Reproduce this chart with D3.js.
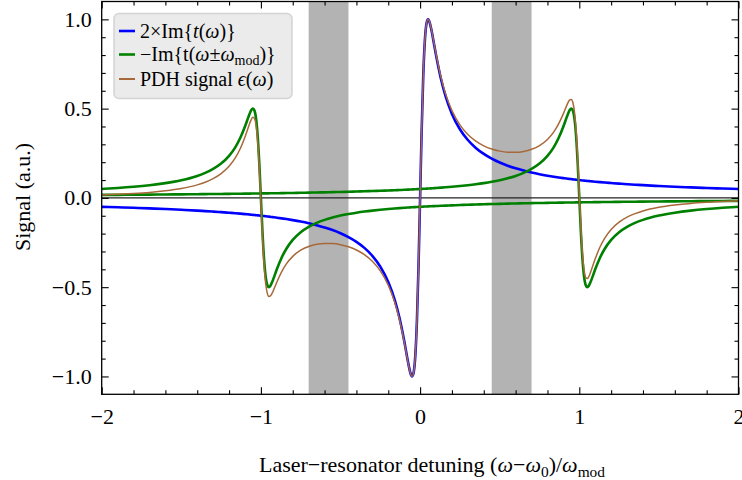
<!DOCTYPE html>
<html>
<head>
<meta charset="utf-8">
<script src="https://cdn.jsdelivr.net/npm/d3@7/dist/d3.min.js"></script>
<style>
  html, body { margin: 0; padding: 0; background: #ffffff; }
  svg { display: block; }
  text { font-family: "Liberation Serif", "DejaVu Serif", serif; fill: #000; }
</style>
</head>
<body>
<svg id="chart" width="742" height="480"></svg>
<script>
// ---------------- data ----------------
const detuning = [
  -2,-1.9,-1.8,-1.7,-1.6,-1.5,-1.4,-1.35,-1.3,-1.25,-1.2,-1.16,-1.13,-1.1,
  -1.08,-1.07,-1.06,-1.05,-1.04,-1.03,-1.02,-1.01,-1,-0.99,-0.98,-0.97,-0.96,-0.95,
  -0.94,-0.93,-0.92,-0.9,-0.87,-0.84,-0.8,-0.75,-0.7,-0.65,-0.6,-0.55,-0.5,-0.45,
  -0.4,-0.35,-0.3,-0.25,-0.2,-0.16,-0.13,-0.1,-0.08,-0.07,-0.06,-0.05,-0.04,-0.03,
  -0.02,-0.01,0,
  0.01,0.02,0.03,0.04,0.05,0.06,0.07,0.08,0.1,0.13,0.16,0.2,0.25,0.3,0.35,0.4,
  0.45,0.5,0.55,0.6,0.65,0.7,0.75,0.8,0.84,0.87,0.9,0.92,0.93,0.94,0.95,0.96,0.97,
  0.98,0.99,1,1.01,1.02,1.03,1.04,1.05,1.06,1.07,1.08,1.1,1.13,1.16,1.2,1.25,1.3,
  1.35,1.4,1.5,1.6,1.7,1.8,1.9,2
];

const carrierSignal = [  // 2 x Im{t(w)}
  -0.0500,-0.0526,-0.0555,-0.0588,-0.0624,-0.0666,-0.0713,-0.0740,-0.0768,-0.0799,-0.0832,
  -0.0860,-0.0883,-0.0907,-0.0924,-0.0933,-0.0941,-0.0950,-0.0959,-0.0969,-0.0978,-0.0988,
  -0.0998,-0.1008,-0.1018,-0.1028,-0.1039,-0.1050,-0.1061,-0.1072,-0.1084,-0.1108,-0.1146,
  -0.1186,-0.1245,-0.1327,-0.1421,-0.1529,-0.1655,-0.1803,-0.1980,-0.2195,-0.2462,-0.2800,
  -0.3243,-0.3846,-0.4706,-0.5694,-0.6701,-0.8000,-0.8989,-0.9459,-0.9836,-1.0000,-0.9756,
  -0.8824,-0.6897,-0.3846,0,
  0.3846,0.6897,0.8824,0.9756,1.0000,0.9836,0.9459,0.8989,0.8000,0.6701,0.5694,0.4706,
  0.3846,0.3243,0.2800,0.2462,0.2195,0.1980,0.1803,0.1655,0.1529,0.1421,0.1327,0.1245,
  0.1186,0.1146,0.1108,0.1084,0.1072,0.1061,0.1050,0.1039,0.1028,0.1018,0.1008,0.0998,
  0.0988,0.0978,0.0969,0.0959,0.0950,0.0941,0.0933,0.0924,0.0907,0.0883,0.0860,0.0832,
  0.0799,0.0768,0.0740,0.0713,0.0666,0.0624,0.0588,0.0555,0.0526,0.0500
];

const lowerSideband = [  // -Im{t(w + w_mod)}
  0.0499,0.0554,0.0623,0.0711,0.0828,0.0990,0.1231,0.1400,0.1622,0.1923,0.2353,0.2847,
  0.3351,0.4000,0.4494,0.4730,0.4918,0.5000,0.4878,0.4412,0.3448,0.1923,0,-0.1923,-0.3448,
  -0.4412,-0.4878,-0.5000,-0.4918,-0.4730,-0.4494,-0.4000,-0.3351,-0.2847,-0.2353,-0.1923,
  -0.1622,-0.1400,-0.1231,-0.1098,-0.0990,-0.0902,-0.0828,-0.0765,-0.0711,-0.0664,-0.0623,
  -0.0593,-0.0573,-0.0554,-0.0542,-0.0536,-0.0530,-0.0525,-0.0519,-0.0514,-0.0509,-0.0504,
  -0.0499,
  -0.0494,-0.0489,-0.0484,-0.0480,-0.0475,-0.0471,-0.0466,-0.0462,-0.0454,-0.0442,-0.0430,
  -0.0416,-0.0399,-0.0384,-0.0370,-0.0357,-0.0344,-0.0333,-0.0322,-0.0312,-0.0303,-0.0294,
  -0.0285,-0.0278,-0.0272,-0.0267,-0.0263,-0.0260,-0.0259,-0.0258,-0.0256,-0.0255,-0.0254,
  -0.0252,-0.0251,-0.0250,-0.0249,-0.0247,-0.0246,-0.0245,-0.0244,-0.0243,-0.0241,-0.0240,
  -0.0238,-0.0235,-0.0231,-0.0227,-0.0222,-0.0217,-0.0213,-0.0208,-0.0200,-0.0192,-0.0185,
  -0.0179,-0.0172,-0.0167
];

const upperSideband = [  // -Im{t(w - w_mod)}
  0.0167,0.0172,0.0179,0.0185,0.0192,0.0200,0.0208,0.0213,0.0217,0.0222,0.0227,0.0231,
  0.0235,0.0238,0.0240,0.0241,0.0243,0.0244,0.0245,0.0246,0.0247,0.0249,0.0250,0.0251,
  0.0252,0.0254,0.0255,0.0256,0.0258,0.0259,0.0260,0.0263,0.0267,0.0272,0.0278,0.0285,
  0.0294,0.0303,0.0312,0.0322,0.0333,0.0344,0.0357,0.0370,0.0384,0.0399,0.0416,0.0430,
  0.0442,0.0454,0.0462,0.0466,0.0471,0.0475,0.0480,0.0484,0.0489,0.0494,0.0499,
  0.0504,0.0509,0.0514,0.0519,0.0525,0.0530,0.0536,0.0542,0.0554,0.0573,0.0593,0.0623,
  0.0664,0.0711,0.0765,0.0828,0.0902,0.0990,0.1098,0.1231,0.1400,0.1622,0.1923,0.2353,
  0.2847,0.3351,0.4000,0.4494,0.4730,0.4918,0.5000,0.4878,0.4412,0.3448,0.1923,0,-0.1923,
  -0.3448,-0.4412,-0.4878,-0.5000,-0.4918,-0.4730,-0.4494,-0.4000,-0.3351,-0.2847,-0.2353,
  -0.1923,-0.1622,-0.1400,-0.1231,-0.0990,-0.0828,-0.0711,-0.0623,-0.0554,-0.0499
];

const pdhSignal = [  // PDH error signal
  0.0166,0.0201,0.0248,0.0309,0.0397,0.0526,0.0730,0.0879,0.1079,0.1358,0.1768,0.2251,
  0.2753,0.3414,0.3930,0.4185,0.4402,0.4520,0.4445,0.4035,0.3130,0.1654,-0.0249,-0.2190,
  -0.3766,-0.4796,-0.5332,-0.5518,-0.5490,-0.5348,-0.5153,-0.4722,-0.4145,-0.3698,-0.3274,
  -0.2931,-0.2722,-0.2602,-0.2553,-0.2560,-0.2620,-0.2736,-0.2916,-0.3177,-0.3550,-0.4089,
  -0.4888,-0.5827,-0.6797,-0.8060,-0.9024,-0.9482,-0.9846,-1.0000,-0.9745,-0.8809,-0.6881,
  -0.3836,0,
  0.3836,0.6881,0.8809,0.9745,1.0000,0.9846,0.9482,0.9024,0.8060,0.6797,0.5827,0.4888,
  0.4089,0.3550,0.3177,0.2916,0.2736,0.2620,0.2560,0.2553,0.2602,0.2722,0.2931,0.3274,
  0.3698,0.4145,0.4722,0.5153,0.5348,0.5490,0.5518,0.5332,0.4796,0.3766,0.2190,0.0249,
  -0.1654,-0.3130,-0.4035,-0.4445,-0.4520,-0.4402,-0.4185,-0.3930,-0.3414,-0.2753,-0.2251,
  -0.1768,-0.1358,-0.1079,-0.0879,-0.0730,-0.0526,-0.0397,-0.0309,-0.0248,-0.0201,-0.0166
];

const bandStart = [-0.7, 0.45];
const bandEnd   = [-0.45, 0.7];

const xMajorTicks = [-2, -1, 0, 1, 2];
const xMinorTicks = [-1.8,-1.6,-1.4,-1.2,-0.8,-0.6,-0.4,-0.2,0.2,0.4,0.6,0.8,1.2,1.4,1.6,1.8];
const yMajorTicks = [-1.0, -0.5, 0.0, 0.5, 1.0];
const yMinorTicks = [-0.9,-0.8,-0.7,-0.6,-0.4,-0.3,-0.2,-0.1,0.1,0.2,0.3,0.4,0.6,0.7,0.8,0.9];

// ---------------- layout ----------------
const svg = d3.select("#chart");
const L = 101.7, R = 738.5, T = 1.5, B = 394.3;
const x = d3.scaleLinear().domain([-2, 2]).range([L, R]);
const y = d3.scaleLinear().domain([-1.1, 1.1]).range([B, T]);

svg.append("defs").append("clipPath").attr("id", "clip")
  .append("rect").attr("x", L).attr("y", T).attr("width", R - L).attr("height", B - T);

const plot = svg.append("g").attr("clip-path", "url(#clip)");

// shaded bands
plot.selectAll("rect.band").data(bandStart).enter().append("rect")
  .attr("class", "band")
  .attr("x", (d) => x(d))
  .attr("width", (d, i) => x(bandEnd[i]) - x(d))
  .attr("y", T).attr("height", B - T)
  .attr("fill", "#b3b3b3");

// zero line
plot.append("line")
  .attr("x1", x(-2)).attr("x2", x(2))
  .attr("y1", y(0)).attr("y2", y(0))
  .attr("stroke", "#222").attr("stroke-width", 1.1);

const line = (vals) => d3.line()
  .x((d, i) => x(detuning[i]))
  .y((d) => y(d))
  .curve(d3.curveMonotoneX)(vals);

const series = [
  { vals: carrierSignal, color: "#0000ff", w: 2.6 },
  { vals: lowerSideband, color: "#008000", w: 2.6 },
  { vals: upperSideband, color: "#008000", w: 2.6 },
  { vals: pdhSignal,     color: "#a8693a", w: 1.5 }
];
series.forEach((s) => {
  plot.append("path").attr("d", line(s.vals))
    .attr("fill", "none").attr("stroke", s.color)
    .attr("stroke-width", s.w).attr("stroke-linejoin", "round");
});

// ---------------- axes ----------------
const fs = 22;
function styleAxis(g) {
  g.select(".domain").remove();
  g.selectAll(".tick line").attr("stroke", "#000").attr("stroke-width", 1.1);
  g.selectAll(".tick text").style("font-size", fs + "px")
    .style("font-family", "'Liberation Serif', serif");
}
const fmtY = d3.format(".1f");
const fmtX = d3.format("d");

svg.append("g").attr("transform", `translate(0,${B})`)
  .call(d3.axisBottom(x).tickValues(xMajorTicks).tickSize(-7).tickPadding(14).tickFormat(fmtX)).call(styleAxis);
svg.append("g").attr("transform", `translate(0,${B})`)
  .call(d3.axisBottom(x).tickValues(xMinorTicks).tickSize(-4).tickFormat("")).call(styleAxis);
svg.append("g").attr("transform", `translate(0,${T})`)
  .call(d3.axisTop(x).tickValues(xMajorTicks).tickSize(-7).tickFormat("")).call(styleAxis);
svg.append("g").attr("transform", `translate(0,${T})`)
  .call(d3.axisTop(x).tickValues(xMinorTicks).tickSize(-4).tickFormat("")).call(styleAxis);

svg.append("g").attr("transform", `translate(${L},0)`)
  .call(d3.axisLeft(y).tickValues(yMajorTicks).tickSize(-7).tickPadding(10).tickFormat(fmtY)).call(styleAxis);
svg.append("g").attr("transform", `translate(${L},0)`)
  .call(d3.axisLeft(y).tickValues(yMinorTicks).tickSize(-4).tickFormat("")).call(styleAxis);
svg.append("g").attr("transform", `translate(${R},0)`)
  .call(d3.axisRight(y).tickValues(yMajorTicks).tickSize(-7).tickFormat("")).call(styleAxis);
svg.append("g").attr("transform", `translate(${R},0)`)
  .call(d3.axisRight(y).tickValues(yMinorTicks).tickSize(-4).tickFormat("")).call(styleAxis);

// frame
svg.append("rect").attr("x", L).attr("y", T).attr("width", R - L).attr("height", B - T)
  .attr("fill", "none").attr("stroke", "#000").attr("stroke-width", 1.3);

// ---------------- rich text helper ----------------
function richText(sel, parts, size) {
  let shift = 0;
  parts.forEach((p) => {
    const t = sel.append("tspan").text(p.t);
    if (p.i) t.style("font-style", "italic");
    if (p.sub) {
      t.style("font-size", (size * 0.7) + "px");
      t.attr("dy", (size * 0.22 - shift));
      shift = size * 0.22;
    } else if (shift !== 0) {
      t.attr("dy", -shift);
      shift = 0;
    }
  });
}

// axis labels
const xl = svg.append("text").attr("x", 432).attr("y", 472)
  .attr("text-anchor", "middle").style("font-size", fs + "px");
richText(xl, [
  { t: "Laser\u2212resonator detuning (" }, { t: "\u03c9", i: true }, { t: "\u2212" },
  { t: "\u03c9", i: true }, { t: "0", sub: true }, { t: ")/" }, { t: "\u03c9", i: true },
  { t: "mod", sub: true }
], fs);

svg.append("text").attr("transform", "translate(30,197) rotate(-90)")
  .attr("text-anchor", "middle").style("font-size", fs + "px").text("Signal (a.u.)");

// ---------------- legend ----------------
const lg = svg.append("g");
lg.append("rect").attr("x", 114).attr("y", 13.5).attr("width", 178).attr("height", 85)
  .attr("rx", 5).attr("fill", "#ebebeb").attr("stroke", "#d4d4d4").attr("stroke-width", 1.5);
const lfs = 20;
const legendItems = [
  { color: "#0000ff", w: 2.6, parts: [{ t: "2\u00d7Im{" }, { t: "t", i: true }, { t: "(" }, { t: "\u03c9", i: true }, { t: ")}" }] },
  { color: "#008000", w: 2.6, parts: [{ t: "\u2212Im{t(" }, { t: "\u03c9", i: true }, { t: "\u00b1" }, { t: "\u03c9", i: true }, { t: "mod", sub: true }, { t: ")}" }] },
  { color: "#a8693a", w: 2.0, parts: [{ t: "PDH signal " }, { t: "\u03f5", i: true }, { t: "(" }, { t: "\u03c9", i: true }, { t: ")" }] }
];
const rowY = [31, 54.5, 79];
legendItems.forEach((it, i) => {
  lg.append("line").attr("x1", 119).attr("x2", 135).attr("y1", rowY[i]).attr("y2", rowY[i])
    .attr("stroke", it.color).attr("stroke-width", it.w);
  const tx = lg.append("text").attr("x", 140).attr("y", rowY[i] + 6.5).style("font-size", lfs + "px");
  richText(tx, it.parts, lfs);
});
</script>
</body>
</html>
